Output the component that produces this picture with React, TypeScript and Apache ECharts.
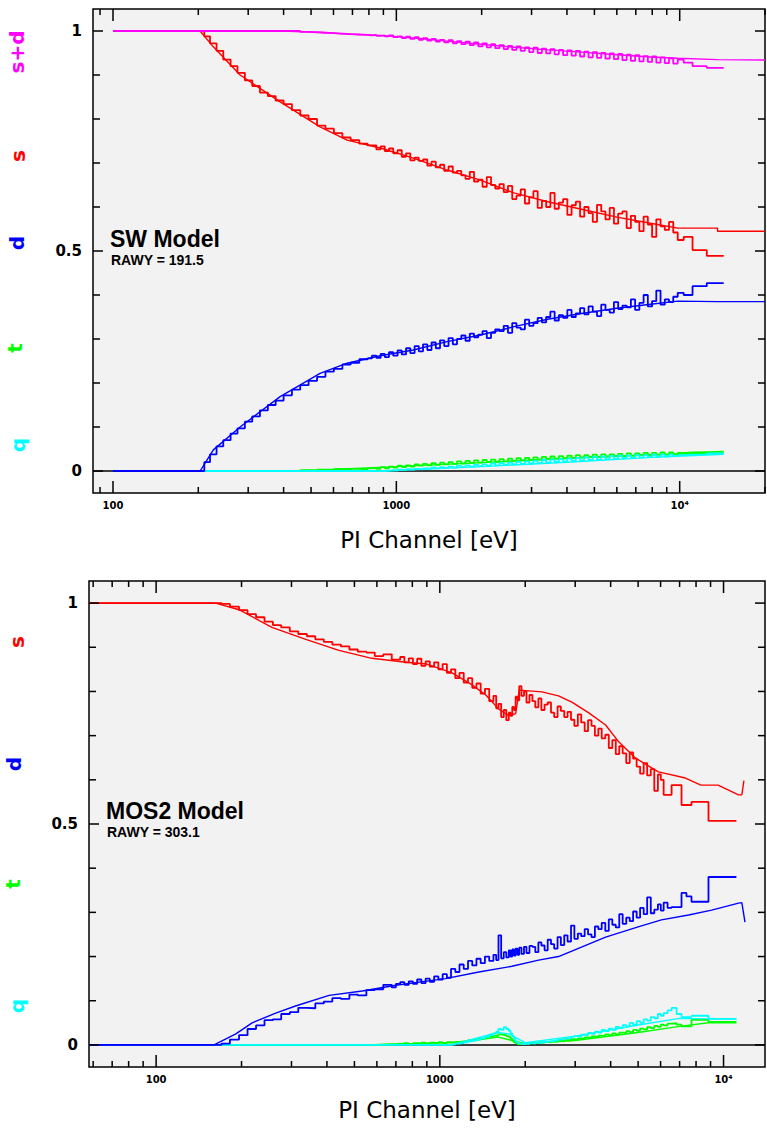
import React, { useEffect, useRef } from "react";
import * as echarts from "echarts";

// ================= TOP PANEL (SW Model) =================
const TOP_X_LOW = [100, 190, 200, 210, 220, 232, 245, 260, 275, 292, 310, 330, 352, 375, 400, 428, 458, 490, 525, 562, 602, 645, 690, 740, 792];
const TOP_X_HIGH = [
  820, 850, 880, 910, 942, 975, 1010, 1045, 1082, 1120,
  1160, 1200, 1242, 1286, 1331, 1378, 1426, 1476, 1528, 1582,
  1637, 1695, 1754, 1816, 1880, 1946, 2014, 2085, 2158, 2234,
  2312, 2393, 2477, 2564, 2654, 2747, 2843, 2943, 3046, 3153,
  3263, 3378, 3496, 3619, 3745, 3877, 4013, 4153, 4299, 4450,
  4605, 4767, 4934, 5107, 5285, 5470, 5662, 5860, 6066, 6278,
  6498, 6726, 6961, 7205, 7458, 7719, 7989, 8268, 8558, 8857,
  9167, 9488, 9840, 10330, 11100, 12460, 14300];

const TOP_RED_LOW = [1, 1, 1, 0.988, 0.972, 0.955, 0.935, 0.92, 0.905, 0.888, 0.875, 0.86, 0.852, 0.842, 0.834, 0.82, 0.808, 0.8, 0.785, 0.778, 0.768, 0.758, 0.752, 0.744, 0.74];
const TOP_RED_HIGH = [
  0.74, 0.731, 0.738, 0.727, 0.733, 0.722, 0.729, 0.714, 0.722, 0.706,
  0.712, 0.705, 0.708, 0.694, 0.703, 0.69, 0.696, 0.682, 0.692, 0.678,
  0.682, 0.672, 0.664, 0.68, 0.658, 0.662, 0.646, 0.668, 0.65, 0.642,
  0.652, 0.634, 0.648, 0.618, 0.626, 0.64, 0.608, 0.622, 0.636, 0.598,
  0.614, 0.6, 0.632, 0.596, 0.61, 0.618, 0.582, 0.604, 0.612, 0.578,
  0.6, 0.586, 0.566, 0.605, 0.59, 0.572, 0.598, 0.562, 0.585, 0.59,
  0.552, 0.58, 0.566, 0.545, 0.578, 0.56, 0.532, 0.572, 0.556, 0.548,
  0.566, 0.542, 0.525, 0.532, 0.502, 0.489, 0.489];

const TOP_BLUE_LOW = [0, 0, 0, 0.02, 0.038, 0.056, 0.07, 0.085, 0.097, 0.112, 0.124, 0.138, 0.15, 0.16, 0.172, 0.185, 0.195, 0.205, 0.214, 0.226, 0.232, 0.242, 0.246, 0.254, 0.256];
const TOP_BLUE_HIGH = [
  0.262, 0.257, 0.266, 0.259, 0.27, 0.262, 0.274, 0.265, 0.279, 0.268,
  0.284, 0.272, 0.288, 0.275, 0.292, 0.279, 0.297, 0.284, 0.302, 0.288,
  0.3, 0.308, 0.296, 0.312, 0.304, 0.31, 0.318, 0.302, 0.314, 0.322,
  0.318, 0.33, 0.314, 0.336, 0.326, 0.322, 0.344, 0.33, 0.336, 0.348,
  0.338, 0.35, 0.362, 0.342, 0.354, 0.348, 0.366, 0.35, 0.358, 0.37,
  0.356, 0.374, 0.362, 0.352, 0.378, 0.366, 0.36, 0.384, 0.368, 0.376,
  0.372, 0.39, 0.366, 0.382, 0.4, 0.374, 0.386, 0.41, 0.378, 0.39,
  0.384, 0.396, 0.405, 0.4, 0.42, 0.427, 0.427];

const TOP_SUM_LOW = [1, 1, 1, 1, 1, 1, 1, 1, 1, 1, 1, 1, 1, 1, 1, 1, 0.998, 0.997, 0.996, 0.995, 0.994, 0.993, 0.992, 0.991, 0.99];
const TOP_SUM_HIGH = [
  0.991, 0.989, 0.99, 0.988, 0.99, 0.986, 0.988, 0.984, 0.987, 0.982,
  0.986, 0.98, 0.984, 0.978, 0.982, 0.976, 0.98, 0.974, 0.979, 0.972,
  0.977, 0.97, 0.976, 0.968, 0.974, 0.965, 0.972, 0.963, 0.97, 0.961,
  0.968, 0.959, 0.966, 0.957, 0.965, 0.955, 0.963, 0.952, 0.962, 0.95,
  0.96, 0.949, 0.959, 0.947, 0.957, 0.945, 0.956, 0.944, 0.955, 0.942,
  0.953, 0.94, 0.952, 0.939, 0.95, 0.937, 0.949, 0.936, 0.948, 0.934,
  0.946, 0.932, 0.945, 0.931, 0.943, 0.93, 0.942, 0.928, 0.94, 0.927,
  0.938, 0.926, 0.935, 0.928, 0.92, 0.916, 0.916];

const TOP_GREEN_LOW = [0, 0, 0, 0, 0, 0, 0, 0, 0, 0, 0, 0, 0, 0, 0, 0, 0.002, 0.001, 0.003, 0.002, 0.004, 0.003, 0.005, 0.004, 0.006];
const TOP_GREEN_HIGH = [
  0.007, 0.005, 0.009, 0.006, 0.01, 0.008, 0.012, 0.009, 0.013, 0.01,
  0.015, 0.012, 0.016, 0.013, 0.018, 0.014, 0.019, 0.015, 0.02, 0.016,
  0.022, 0.017, 0.023, 0.018, 0.024, 0.019, 0.025, 0.02, 0.026, 0.021,
  0.027, 0.022, 0.028, 0.023, 0.029, 0.024, 0.03, 0.025, 0.031, 0.026,
  0.032, 0.027, 0.033, 0.028, 0.034, 0.029, 0.035, 0.03, 0.036, 0.031,
  0.036, 0.032, 0.037, 0.032, 0.038, 0.033, 0.038, 0.034, 0.039, 0.034,
  0.04, 0.035, 0.04, 0.036, 0.041, 0.036, 0.041, 0.037, 0.042, 0.037,
  0.042, 0.038, 0.041, 0.042, 0.043, 0.044, 0.044];

const TOP_CYAN_LOW = [0, 0, 0, 0, 0, 0, 0, 0, 0, 0, 0, 0, 0, 0, 0, 0, 0, 0, 0, 0, 0, 0, 0, 0, 0];
const TOP_CYAN_HIGH = [
  0, 0, 0, 0.001, 0.002, 0.001, 0.003, 0.002, 0.004, 0.003,
  0.005, 0.004, 0.006, 0.005, 0.008, 0.006, 0.009, 0.007, 0.01, 0.008,
  0.012, 0.009, 0.013, 0.01, 0.014, 0.011, 0.015, 0.012, 0.017, 0.013,
  0.018, 0.014, 0.019, 0.015, 0.021, 0.016, 0.022, 0.017, 0.023, 0.018,
  0.025, 0.019, 0.026, 0.021, 0.027, 0.022, 0.028, 0.023, 0.03, 0.024,
  0.031, 0.025, 0.032, 0.026, 0.033, 0.027, 0.034, 0.028, 0.035, 0.029,
  0.035, 0.03, 0.036, 0.031, 0.036, 0.032, 0.037, 0.032, 0.037, 0.033,
  0.037, 0.034, 0.036, 0.037, 0.038, 0.04, 0.04];

const TOP_X = [...TOP_X_LOW, ...TOP_X_HIGH];
const TOP_RED = [...TOP_RED_LOW, ...TOP_RED_HIGH];
const TOP_BLUE = [...TOP_BLUE_LOW, ...TOP_BLUE_HIGH];
const TOP_SUM = [...TOP_SUM_LOW, ...TOP_SUM_HIGH];
const TOP_GREEN = [...TOP_GREEN_LOW, ...TOP_GREEN_HIGH];
const TOP_CYAN = [...TOP_CYAN_LOW, ...TOP_CYAN_HIGH];

const TOP_MODEL_X = [100, 203, 226, 281, 389, 538, 670, 878, 1148, 1510, 1980, 2600, 3420, 4500, 6000, 7900, 9840, 13600, 13600, 20000];
const TOP_RED_MODEL = [1, 1, 0.964, 0.9, 0.839, 0.782, 0.752, 0.734, 0.711, 0.684, 0.661, 0.632, 0.612, 0.595, 0.577, 0.563, 0.552, 0.552, 0.545, 0.545];
const TOP_BLUE_MODEL = [0, 0, 0.048, 0.1, 0.169, 0.222, 0.245, 0.262, 0.275, 0.294, 0.309, 0.328, 0.345, 0.358, 0.37, 0.379, 0.386, 0.385, 0.385, 0.385];
const TOP_SUM_MODEL = [1, 1, 1, 1, 1, 0.997, 0.993, 0.99, 0.984, 0.977, 0.97, 0.963, 0.957, 0.952, 0.946, 0.941, 0.938, 0.935, 0.934, 0.934];
const TOP_GREEN_MODEL_X = [100, 440, 1000, 2000, 4000, 8000, 14300];
const TOP_GREEN_MODEL = [0, 0, 0.01, 0.019, 0.029, 0.037, 0.041];
const TOP_CYAN_MODEL_X = [100, 900, 2000, 4000, 8000, 14300];
const TOP_CYAN_MODEL = [0, 0, 0.01, 0.02, 0.031, 0.038];

// ================= BOTTOM PANEL (MOS2 Model) =================
const BOT_X_LOW = [58, 160, 170, 182, 196, 210, 225, 241, 258, 276, 296, 317, 340, 364, 390, 418, 448, 480, 514, 551, 590, 632, 677];
const BOT_X_HIGH = [
  700, 725, 750, 777, 804, 832, 861, 891, 922, 955,
  988, 1023, 1059, 1095, 1134, 1173, 1214, 1257, 1301, 1346,
  1393, 1442, 1493, 1545, 1580, 1610, 1645, 1680, 1715, 1750,
  1775, 1800, 1825, 1850, 1878, 1905, 1940, 1980, 2020, 2070,
  2120, 2170, 2225, 2280, 2340, 2400, 2465, 2530, 2600, 2670,
  2745, 2820, 2900, 2980, 3065, 3150, 3240, 3330, 3425, 3520,
  3620, 3720, 3830, 3940, 4055, 4170, 4290, 4410, 4540, 4670,
  4800, 4940, 5080, 5230, 5380, 5540, 5700, 5870, 6010, 6150,
  6350, 6560, 6830, 7110, 7400, 7710, 8850, 11100];

const BOT_RED_LOW = [1, 1, 0.998, 0.992, 0.984, 0.975, 0.968, 0.958, 0.95, 0.945, 0.936, 0.93, 0.925, 0.918, 0.912, 0.906, 0.902, 0.895, 0.89, 0.888, 0.88, 0.884, 0.872];
const BOT_RED_HIGH = [
  0.872, 0.878, 0.866, 0.875, 0.862, 0.874, 0.858, 0.868, 0.856, 0.866,
  0.85, 0.862, 0.842, 0.85, 0.83, 0.842, 0.82, 0.83, 0.808, 0.818,
  0.795, 0.806, 0.778, 0.79, 0.762, 0.772, 0.742, 0.758, 0.735, 0.752,
  0.745, 0.765, 0.758, 0.788, 0.78, 0.812, 0.79, 0.8, 0.775, 0.792,
  0.778, 0.764, 0.784, 0.758, 0.77, 0.775, 0.752, 0.742, 0.766, 0.756,
  0.742, 0.754, 0.736, 0.722, 0.748, 0.73, 0.71, 0.735, 0.722, 0.7,
  0.716, 0.694, 0.702, 0.672, 0.69, 0.658, 0.676, 0.66, 0.638, 0.662,
  0.648, 0.63, 0.614, 0.638, 0.61, 0.624, 0.575, 0.612, 0.6, 0.566,
  0.566, 0.588, 0.588, 0.543, 0.543, 0.55, 0.507, 0.507];

const BOT_BLUE_LOW = [0, 0, 0.003, 0.012, 0.022, 0.036, 0.044, 0.056, 0.058, 0.07, 0.074, 0.084, 0.083, 0.094, 0.098, 0.106, 0.104, 0.114, 0.112, 0.124, 0.126, 0.136, 0.13];
const BOT_BLUE_HIGH = [
  0.138, 0.142, 0.136, 0.144, 0.138, 0.148, 0.14, 0.15, 0.143, 0.155,
  0.148, 0.16, 0.152, 0.172, 0.165, 0.182, 0.172, 0.19, 0.18, 0.195,
  0.185, 0.2, 0.19, 0.204, 0.192, 0.248, 0.196, 0.21, 0.198, 0.214,
  0.2, 0.216, 0.202, 0.218, 0.204, 0.22, 0.206, 0.222, 0.208, 0.224,
  0.222, 0.21, 0.232, 0.225, 0.214, 0.238, 0.228, 0.218, 0.244, 0.226,
  0.248, 0.234, 0.27, 0.24, 0.252, 0.246, 0.262, 0.25, 0.244, 0.268,
  0.262, 0.276, 0.258, 0.284, 0.272, 0.266, 0.296, 0.274, 0.288, 0.28,
  0.302, 0.288, 0.31, 0.296, 0.334, 0.298, 0.306, 0.318, 0.304, 0.322,
  0.31, 0.312, 0.312, 0.344, 0.336, 0.324, 0.38, 0.38];

const BOT_GREEN_LOW = [0, 0, 0, 0, 0, 0, 0, 0, 0, 0, 0, 0, 0, 0, 0, 0, 0, 0, 0, 0, 0.001, 0.002, 0.002];
const BOT_GREEN_HIGH = [
  0.003, 0.002, 0.004, 0.002, 0.004, 0.003, 0.005, 0.003, 0.005, 0.004,
  0.006, 0.004, 0.006, 0.005, 0.007, 0.008, 0.009, 0.011, 0.012, 0.014,
  0.015, 0.017, 0.019, 0.021, 0.022, 0.024, 0.023, 0.022, 0.02, 0.018,
  0.014, 0.01, 0.006, 0.004, 0.002, 0.002, 0.003, 0.002, 0.004, 0.003,
  0.005, 0.004, 0.006, 0.005, 0.007, 0.006, 0.008, 0.007, 0.009, 0.008,
  0.011, 0.01, 0.013, 0.012, 0.015, 0.014, 0.017, 0.016, 0.019, 0.018,
  0.021, 0.02, 0.024, 0.022, 0.026, 0.024, 0.028, 0.027, 0.031, 0.029,
  0.034, 0.032, 0.037, 0.035, 0.04, 0.038, 0.043, 0.041, 0.046, 0.044,
  0.048, 0.049, 0.046, 0.042, 0.042, 0.057, 0.052, 0.052];

const BOT_CYAN_LOW = [0, 0, 0, 0, 0, 0, 0, 0, 0, 0, 0, 0, 0, 0, 0, 0, 0, 0, 0, 0, 0, 0, 0];
const BOT_CYAN_HIGH = [
  0, 0, 0, 0, 0, 0, 0, 0, 0, 0,
  0, 0, 0, 0.001, 0.003, 0.004, 0.006, 0.008, 0.01, 0.012,
  0.015, 0.018, 0.022, 0.026, 0.03, 0.036, 0.034, 0.04, 0.036, 0.032,
  0.026, 0.02, 0.014, 0.008, 0.004, 0.003, 0.002, 0.003, 0.002, 0.004,
  0.003, 0.005, 0.004, 0.006, 0.007, 0.008, 0.009, 0.01, 0.012, 0.013,
  0.015, 0.014, 0.018, 0.02, 0.019, 0.023, 0.022, 0.027, 0.025, 0.03,
  0.028, 0.034, 0.031, 0.037, 0.034, 0.041, 0.038, 0.045, 0.042, 0.05,
  0.046, 0.054, 0.05, 0.058, 0.055, 0.063, 0.06, 0.07, 0.066, 0.072,
  0.078, 0.084, 0.07, 0.063, 0.063, 0.066, 0.059, 0.059];

const BOT_X = [...BOT_X_LOW, ...BOT_X_HIGH];
const BOT_RED = [...BOT_RED_LOW, ...BOT_RED_HIGH];
const BOT_BLUE = [...BOT_BLUE_LOW, ...BOT_BLUE_HIGH];
const BOT_GREEN = [...BOT_GREEN_LOW, ...BOT_GREEN_HIGH];
const BOT_CYAN = [...BOT_CYAN_LOW, ...BOT_CYAN_HIGH];

const BOT_RED_MODEL_X = [58, 162, 196, 256, 337, 441, 576, 758, 900, 1104, 1300, 1452, 1614, 1750, 1850, 1905, 2290, 2620, 2920, 3360, 3840, 4270, 4900, 5580, 5900, 7340, 8320, 9560, 11300, 11600, 11800];
const BOT_RED_MODEL = [1, 1, 0.985, 0.945, 0.918, 0.893, 0.875, 0.866, 0.862, 0.842, 0.815, 0.792, 0.76, 0.745, 0.75, 0.803, 0.799, 0.79, 0.776, 0.751, 0.724, 0.686, 0.649, 0.627, 0.618, 0.604, 0.588, 0.588, 0.566, 0.566, 0.598];
const BOT_BLUE_MODEL_X = [58, 160, 191, 218, 264, 310, 407, 533, 700, 913, 1047, 1372, 1795, 2230, 2620, 3840, 5000, 6040, 7530, 9080, 11300, 11600, 11900];
const BOT_BLUE_MODEL = [0, 0, 0.025, 0.05, 0.072, 0.088, 0.112, 0.122, 0.135, 0.145, 0.15, 0.165, 0.178, 0.192, 0.2, 0.244, 0.267, 0.283, 0.294, 0.305, 0.321, 0.322, 0.278];
const BOT_GREEN_MODEL_X = [58, 600, 1200, 1600, 1800, 2000, 3000, 5000, 7000, 8850, 11100];
const BOT_GREEN_MODEL = [0, 0, 0.006, 0.018, 0.01, 0.003, 0.01, 0.028, 0.042, 0.05, 0.05];
const BOT_CYAN_MODEL_X = [58, 1100, 1600, 1750, 2000, 3000, 5000, 7000, 8850, 11100];
const BOT_CYAN_MODEL = [0, 0, 0.028, 0.025, 0.005, 0.02, 0.045, 0.06, 0.059, 0.059];

// ================= AXES =================
const TOP_X_RANGE = [85, 20000];
const BOT_X_RANGE = [58, 14000];
const Y_RANGE = [-0.05, 1.05];

const TOP_X_TICKS = [90, 100, 200, 300, 400, 500, 600, 700, 800, 900, 1000, 2000, 3000, 4000, 5000, 6000, 7000, 8000, 9000, 10000, 20000];
const TOP_X_LABELS = ["", "100", "", "", "", "", "", "", "", "", "1000", "", "", "", "", "", "", "", "", "10⁴", ""];
const BOT_X_TICKS = [60, 70, 80, 90, 100, 200, 300, 400, 500, 600, 700, 800, 900, 1000, 2000, 3000, 4000, 5000, 6000, 7000, 8000, 9000, 10000];
const BOT_X_LABELS = ["", "", "", "", "100", "", "", "", "", "", "", "", "", "1000", "", "", "", "", "", "", "", "", "10⁴"];
const MAJOR_X = [100, 1000, 10000];

const Y_TICKS = [0, 0.1, 0.2, 0.3, 0.4, 0.5, 0.6, 0.7, 0.8, 0.9, 1];
const Y_LABELS = ["0", "", "", "", "", "0.5", "", "", "", "", "1"];

const pairs = (xs: number[], ys: number[]) => xs.map((x, i) => [x, ys[i]]);

function dataSeries(g: number, xs: number[], ys: number[], color: string, z: number) {
  return {
    type: "line", xAxisIndex: g, yAxisIndex: g, data: pairs(xs, ys), step: "end",
    showSymbol: false, symbol: "none", lineStyle: { color, width: 1.8 }, itemStyle: { color },
    z, animation: false, silent: true,
  };
}
function modelSeries(g: number, xs: number[], ys: number[], color: string, z: number) {
  return {
    type: "line", xAxisIndex: g, yAxisIndex: g, data: pairs(xs, ys),
    showSymbol: false, symbol: "none", lineStyle: { color, width: 1.4 }, itemStyle: { color },
    z, animation: false, silent: true,
  };
}
function zeroSeries(g: number, range: number[]) {
  return {
    type: "line", xAxisIndex: g, yAxisIndex: g, data: [[range[0], 0], [range[1], 0]],
    showSymbol: false, symbol: "none", lineStyle: { color: "#000", width: 1.5 }, z: 1, silent: true,
  };
}
function xTickSeries(g: number, ticks: number[], labels: string[]) {
  return {
    type: "custom", xAxisIndex: g, yAxisIndex: g, clip: false, silent: true, z: 20,
    data: ticks.map((v) => [v, 0]),
    renderItem: (params: any, api: any) => {
      const v = api.value(0);
      const b = api.coord([v, Y_RANGE[0]]);
      const t = api.coord([v, Y_RANGE[1]]);
      const len = MAJOR_X.indexOf(v) >= 0 ? 12 : 6;
      const st = { stroke: "#000", lineWidth: 1.5 };
      const children: any[] = [
        { type: "line", shape: { x1: b[0], y1: b[1], x2: b[0], y2: b[1] - len }, style: st },
        { type: "line", shape: { x1: t[0], y1: t[1], x2: t[0], y2: t[1] + len }, style: st },
      ];
      const lab = labels[params.dataIndex];
      if (lab) {
        children.push({
          type: "text", x: b[0], y: b[1] + 12,
          style: { text: lab, fill: "#000", font: 'bold 10px "DejaVu Sans"', align: "center", verticalAlign: "middle" },
        });
      }
      return { type: "group", children };
    },
  };
}
function yTickSeries(g: number, xr: number[]) {
  return {
    type: "custom", xAxisIndex: g, yAxisIndex: g, clip: false, silent: true, z: 20,
    data: Y_TICKS.map((v) => [xr[0], v]),
    renderItem: (params: any, api: any) => {
      const v = api.value(1);
      const l = api.coord([xr[0], v]);
      const r = api.coord([xr[1], v]);
      const lab = Y_LABELS[params.dataIndex];
      const len = lab ? 10 : 7;
      const st = { stroke: "#000", lineWidth: 1.5 };
      const children: any[] = [
        { type: "line", shape: { x1: l[0], y1: l[1], x2: l[0] + len, y2: l[1] }, style: st },
        { type: "line", shape: { x1: r[0], y1: r[1], x2: r[0] - len, y2: r[1] }, style: st },
      ];
      if (lab) {
        children.push({
          type: "text", x: l[0] - 11, y: l[1],
          style: { text: lab, fill: "#000", font: 'bold 15px "DejaVu Sans"', align: "right", verticalAlign: "middle" },
        });
      }
      return { type: "group", children };
    },
  };
}

function sideLabel(text: string, color: string, x: number, y: number) {
  return {
    type: "text", x, y, rotation: Math.PI / 2,
    style: { text, fill: color, font: 'bold 20px "DejaVu Sans"', align: "center", verticalAlign: "middle" },
  };
}
function plainText(text: string, x: number, y: number, font: string, align = "left") {
  return { type: "text", x, y, style: { text, fill: "#000", font, align, verticalAlign: "middle" } };
}

export default function App() {
  const ref = useRef<HTMLDivElement>(null);
  useEffect(() => {
    if (!ref.current) return;
    const chart = echarts.init(ref.current, null, { renderer: "svg", width: 767, height: 1130 });
    const hiddenX = (g: number, r: number[]) => ({
      type: "log", gridIndex: g, min: r[0], max: r[1], logBase: 10,
      axisLine: { show: false }, axisTick: { show: false }, axisLabel: { show: false }, splitLine: { show: false },
    });
    const hiddenY = (g: number) => ({
      type: "value", gridIndex: g, min: Y_RANGE[0], max: Y_RANGE[1],
      axisLine: { show: false }, axisTick: { show: false }, axisLabel: { show: false }, splitLine: { show: false },
    });
    const gridStyle = { show: true, backgroundColor: "#f2f2f2", borderColor: "#000", borderWidth: 1.5, containLabel: false };
    const option: any = {
      animation: false,
      backgroundColor: "#ffffff",
      grid: [
        { left: 93, top: 9, width: 672, height: 484, ...gridStyle },
        { left: 89, top: 581, width: 676, height: 486, ...gridStyle },
      ],
      xAxis: [hiddenX(0, TOP_X_RANGE), hiddenX(1, BOT_X_RANGE)],
      yAxis: [hiddenY(0), hiddenY(1)],
      series: [
        zeroSeries(0, TOP_X_RANGE),
        modelSeries(0, TOP_GREEN_MODEL_X, TOP_GREEN_MODEL, "#00ff00", 2),
        modelSeries(0, TOP_CYAN_MODEL_X, TOP_CYAN_MODEL, "#00ffff", 2),
        dataSeries(0, TOP_X, TOP_GREEN, "#00ff00", 3),
        dataSeries(0, TOP_X, TOP_CYAN, "#00ffff", 3),
        modelSeries(0, TOP_MODEL_X, TOP_BLUE_MODEL, "#0000ff", 4),
        dataSeries(0, TOP_X, TOP_BLUE, "#0000ff", 4),
        modelSeries(0, TOP_MODEL_X, TOP_RED_MODEL, "#ff0000", 5),
        dataSeries(0, TOP_X, TOP_RED, "#ff0000", 5),
        modelSeries(0, TOP_MODEL_X, TOP_SUM_MODEL, "#ff00ff", 6),
        dataSeries(0, TOP_X, TOP_SUM, "#ff00ff", 6),
        xTickSeries(0, TOP_X_TICKS, TOP_X_LABELS),
        yTickSeries(0, TOP_X_RANGE),

        zeroSeries(1, BOT_X_RANGE),
        modelSeries(1, BOT_GREEN_MODEL_X, BOT_GREEN_MODEL, "#00ff00", 2),
        dataSeries(1, BOT_X, BOT_GREEN, "#00ff00", 2),
        modelSeries(1, BOT_CYAN_MODEL_X, BOT_CYAN_MODEL, "#00ffff", 3),
        dataSeries(1, BOT_X, BOT_CYAN, "#00ffff", 3),
        modelSeries(1, BOT_BLUE_MODEL_X, BOT_BLUE_MODEL, "#0000ff", 4),
        dataSeries(1, BOT_X, BOT_BLUE, "#0000ff", 4),
        modelSeries(1, BOT_RED_MODEL_X, BOT_RED_MODEL, "#ff0000", 5),
        dataSeries(1, BOT_X, BOT_RED, "#ff0000", 5),
        xTickSeries(1, BOT_X_TICKS, BOT_X_LABELS),
        yTickSeries(1, BOT_X_RANGE),
      ],
      graphic: [
        sideLabel("s+d", "#ff00ff", 17, 52),
        sideLabel("s", "#ff0000", 18, 156),
        sideLabel("d", "#0000ff", 17, 243),
        sideLabel("t", "#00ff00", 15, 348),
        sideLabel("q", "#00ffff", 18, 445),
        sideLabel("s", "#ff0000", 17, 642),
        sideLabel("d", "#0000ff", 14, 764),
        sideLabel("t", "#00ff00", 13, 884),
        sideLabel("q", "#00ffff", 17, 1006),
        plainText("SW Model", 110, 239, 'bold 23px "Liberation Sans"'),
        plainText("RAWY = 191.5", 111, 260, 'bold 14px "Liberation Sans"'),
        plainText("MOS2 Model", 106, 811, 'bold 23px "Liberation Sans"'),
        plainText("RAWY = 303.1", 107, 832, 'bold 14px "Liberation Sans"'),
        plainText("PI Channel [eV]", 429, 540, '23px "DejaVu Sans"', "center"),
        plainText("PI Channel [eV]", 427, 1110, '23px "DejaVu Sans"', "center"),
      ],
    };
    chart.setOption(option);
    return () => chart.dispose();
  }, []);
  return <div ref={ref} style={{ position: "absolute", left: 0, top: 0, width: 767, height: 1130 }} />;
}
